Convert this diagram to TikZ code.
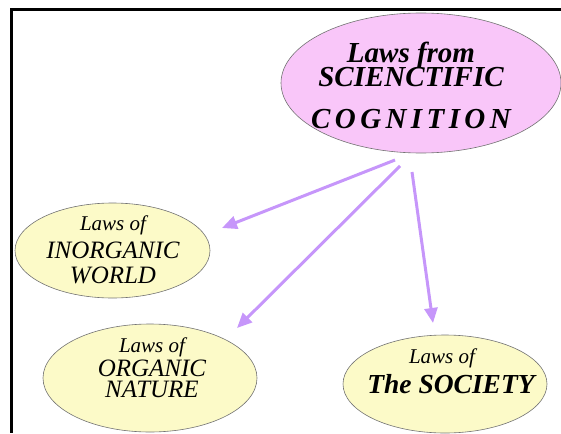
\documentclass[tikz,border=0pt]{standalone}
\usepackage{fontspec}
\setmainfont{Liberation Serif}
\usetikzlibrary{
    arrows.meta,
    shapes.geometric
}

\definecolor{lawpink}{RGB}{249,198,249}
\definecolor{lawyellow}{RGB}{252,250,200}
\definecolor{lawarrow}{RGB}{198,150,250}

\newcommand\tightlines{\lineskiplimit=-50pt\relax}
\newcommand\spaced[1]{{\spaceskip=4.4pt\relax #1}}

\tikzset{
    blob/.style={ellipse,draw=black!55,line width=0.6pt,inner sep=0pt},
    lawtext/.style={anchor=base,align=center,inner sep=0pt},
    link/.style={lawarrow,line width=3pt,-{Triangle[length=15pt,width=13pt]}}
}

\begin{document}
\begin{tikzpicture}[x=1pt,y=-1pt]
\useasboundingbox (0,0) rectangle (561,433);

% Frame
\draw[line width=3pt] (561,10) -- (11.5,10) -- (11.5,433);

% Ellipses
\node[blob,fill=lawpink,minimum width=280pt,minimum height=140pt] (sci) at (421,83) {};
\node[blob,fill=lawyellow,minimum width=195pt,minimum height=95pt] (inorg) at (112.5,250.5) {};
\node[blob,fill=lawyellow,minimum width=214pt,minimum height=108pt] (org) at (150,378) {};
\node[blob,fill=lawyellow,minimum width=204pt,minimum height=98pt] (soc) at (445,384) {};

% Texts (anchored at the baseline of the last line)
\node[lawtext,font=\bfseries\itshape\fontsize{29}{25}\selectfont\tightlines] (scitext) at (411,128)
    {Laws from\\SCIENCTIFIC\\[16pt]\spaced{C O G N I T I O N}};
\node[lawtext,font=\itshape\fontsize{25}{25}\selectfont\tightlines] (inorgtext) at (113,283)
    {\fontsize{21}{25}\selectfont Laws of\\[3pt]INORGANIC\\WORLD};
\node[lawtext,font=\itshape\fontsize{25}{21}\selectfont\tightlines] (orgtext) at (152,397)
    {\fontsize{21}{21}\selectfont Laws of\\[3pt]ORGANIC\\NATURE};
\node[lawtext,font=\bfseries\itshape\fontsize{27.5}{30}\selectfont\tightlines] (soctext) at (451,393)
    {\mdseries\fontsize{21}{30}\selectfont Laws of\hspace*{18pt}\\The SOCIETY};

% Arrows
\coordinate (s1) at (395,160);
\coordinate (s2) at (400,166);
\coordinate (s3) at (412,172);
\coordinate (t1) at (222,228);
\coordinate (t2) at (237,328);
\coordinate (t3) at (433,323);
\draw[link] (s1) -- (t1);
\draw[link] (s2) -- (t2);
\draw[link] (s3) -- (t3);

\end{tikzpicture}
\end{document}
